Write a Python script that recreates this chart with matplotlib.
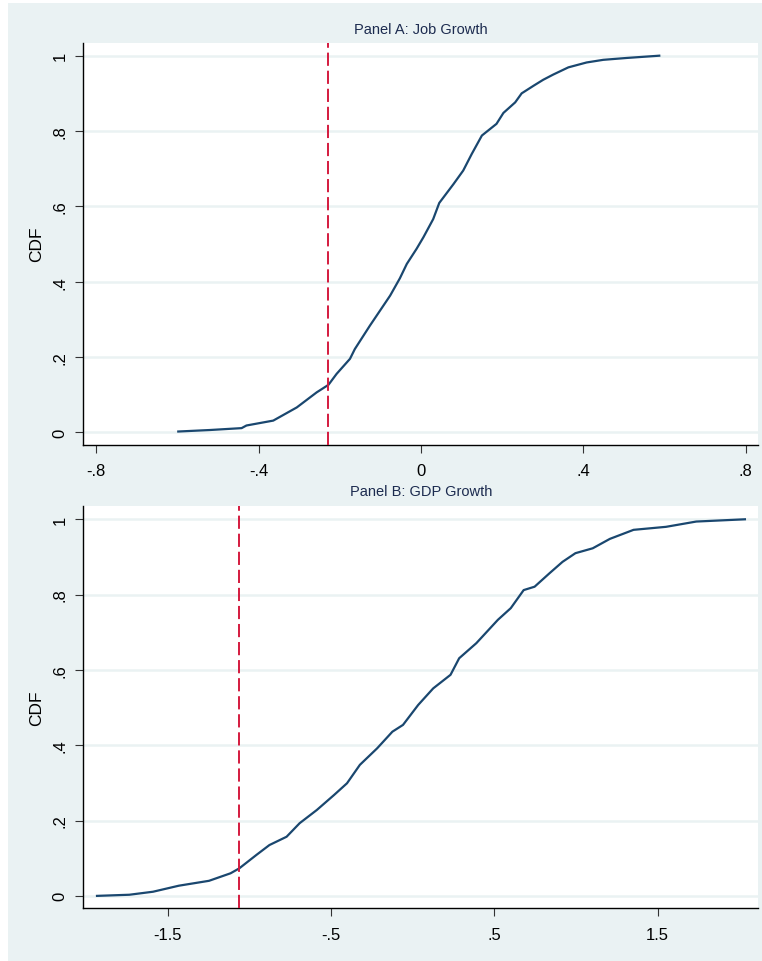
import matplotlib
matplotlib.use("Agg")
import matplotlib.pyplot as plt
from matplotlib.patches import Rectangle

plt.rcParams['font.family'] = ['Liberation Sans', 'DejaVu Sans']
plt.rcParams['lines.scale_dashes'] = False

# Panel A: job growth CDF
job_x = [-0.598, -0.52, -0.442, -0.43, -0.364, -0.306, -0.257, -0.228, -0.208, -0.175,
         -0.163, -0.126, -0.076, -0.052, -0.035, -0.011, 0.006, 0.030, 0.045, 0.080,
         0.104, 0.125, 0.150, 0.186, 0.203, 0.232, 0.248, 0.277, 0.301, 0.326,
         0.363, 0.408, 0.449, 0.507, 0.587]
job_cdf = [0.002, 0.006, 0.011, 0.018, 0.031, 0.066, 0.106, 0.126, 0.155, 0.195,
           0.221, 0.283, 0.363, 0.409, 0.447, 0.487, 0.518, 0.566, 0.609, 0.659,
           0.695, 0.739, 0.788, 0.819, 0.848, 0.876, 0.900, 0.920, 0.936, 0.950,
           0.969, 0.982, 0.989, 0.994, 1.0]
job_cut = -0.228
job_ticks = [-0.8, -0.4, 0, 0.4, 0.8]
job_ticklabels = ['-.8', '-.4', '0', '.4', '.8']

# Panel B: GDP growth CDF
gdp_x = [-1.933, -1.735, -1.590, -1.432, -1.247, -1.115, -1.062, -0.956, -0.877, -0.772,
         -0.692, -0.587, -0.481, -0.402, -0.323, -0.217, -0.124, -0.059, 0.034, 0.126,
         0.232, 0.285, 0.390, 0.522, 0.601, 0.680, 0.747, 0.839, 0.918, 0.997,
         1.103, 1.208, 1.353, 1.552, 1.737, 2.035]
gdp_cdf = [0.0, 0.003, 0.011, 0.027, 0.040, 0.060, 0.073, 0.109, 0.135, 0.157,
           0.193, 0.228, 0.268, 0.299, 0.348, 0.392, 0.436, 0.454, 0.507, 0.551,
           0.587, 0.631, 0.671, 0.733, 0.764, 0.812, 0.821, 0.857, 0.887, 0.910,
           0.923, 0.948, 0.972, 0.980, 0.994, 1.0]
gdp_cut = -1.062
gdp_ticks = [-1.5, -0.5, 0.5, 1.5]
gdp_ticklabels = ['-1.5', '-.5', '.5', '1.5']

y_ticks = [0, 0.2, 0.4, 0.6, 0.8, 1]
y_ticklabels = ['0', '.2', '.4', '.6', '.8', '1']

bg = '#eaf2f3'
navy = '#1a476f'
red = '#d41a3e'

W, H = 762, 962
fig = plt.figure(figsize=(W / 100, H / 100), dpi=100, facecolor='white')
fig.patches.append(Rectangle((8 / W, 0), 1 - 8 / W, (H - 4) / H,
                             transform=fig.transFigure, facecolor=bg,
                             edgecolor='none', zorder=-10))

left, right = 83.3, 758.3
panels = [
    (43.7, 445.7, job_x, job_cdf, job_cut, job_ticks, job_ticklabels,
     (-0.832, 0.831), 'Panel A: Job Growth', 30),
    (507.3, 909.3, gdp_x, gdp_cdf, gdp_cut, gdp_ticks, gdp_ticklabels,
     (-2.017, 2.117), 'Panel B: GDP Growth', 492),
]

for top, bottom, xs, ys, cut, xt, xtl, xlim, title, ty in panels:
    ax = fig.add_axes([left / W, 1 - bottom / H, (right - left) / W, (bottom - top) / H])
    ax.set_facecolor('white')
    ax.plot(xs, ys, color=navy, lw=1.6, zorder=3)
    ax.axvline(cut, color=red, lw=1.4, dashes=(9.5, 3.5), zorder=4)
    ax.set_xlim(*xlim)
    ax.set_ylim(-0.033, 1.0345)
    ax.set_xticks(xt)
    ax.set_xticklabels(xtl)
    ax.set_yticks(y_ticks)
    ax.set_yticklabels(y_ticklabels, rotation=90, va='center')
    ax.grid(axis='y', color=bg, lw=1.8)
    ax.set_axisbelow(True)
    for s in ['top', 'right']:
        ax.spines[s].set_visible(False)
    for s in ['left', 'bottom']:
        ax.spines[s].set_color('black')
        ax.spines[s].set_linewidth(1.0)
    ax.tick_params(axis='both', length=5.5, width=0.8, color='#333333',
                   labelsize=12, labelcolor='black')
    ax.tick_params(axis='x', pad=8)
    ax.tick_params(axis='y', pad=6)
    ax.set_ylabel('CDF', fontsize=12.5)
    ax.yaxis.set_label_coords((44 - left) / (right - left), 0.5)
    fig.text((left + right) / 2 / W, 1 - ty / H, title, ha='center', va='center',
             fontsize=10.5, color='#1c2b4f')

fig.savefig('out.png', dpi=100, facecolor='white')
